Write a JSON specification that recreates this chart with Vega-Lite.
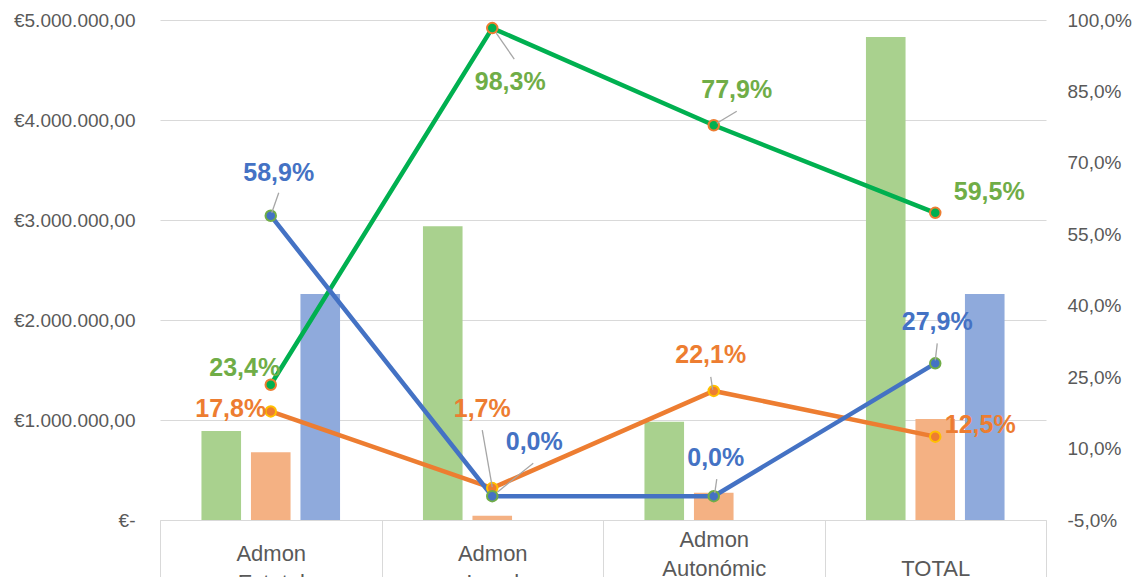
{
  "$schema": "https://vega.github.io/schema/vega-lite/v6.json",
  "width": 886,
  "height": 500,
  "autosize": {"type": "none"},
  "padding": {"left": 160, "top": 20, "right": 100, "bottom": 57},
  "config": {
    "locale": {"number": {"decimal": ",", "thousands": ".", "grouping": [3], "currency": ["€", ""], "minus": "-"}},
    "view": {"stroke": null},
    "font": "Liberation Sans",
    "axis": {"labelFont": "Liberation Sans", "labelFontSize": 19, "labelColor": "#595959", "gridColor": "#D9D9D9", "domainColor": "#D9D9D9", "tickColor": "#D9D9D9", "title": null}
  },
  "datasets": {
    "importes": [
      {"cat": "Admon Estatal", "serie": "Serie 1", "importe": 890000},
      {"cat": "Admon Estatal", "serie": "Serie 2", "importe": 677000},
      {"cat": "Admon Estatal", "serie": "Serie 3", "importe": 2260000},
      {"cat": "Admon Local", "serie": "Serie 1", "importe": 2937000},
      {"cat": "Admon Local", "serie": "Serie 2", "importe": 43000},
      {"cat": "Admon Local", "serie": "Serie 3", "importe": 0},
      {"cat": "Admon Autonómica", "serie": "Serie 1", "importe": 983000},
      {"cat": "Admon Autonómica", "serie": "Serie 2", "importe": 273000},
      {"cat": "Admon Autonómica", "serie": "Serie 3", "importe": 0},
      {"cat": "TOTAL", "serie": "Serie 1", "importe": 4830000},
      {"cat": "TOTAL", "serie": "Serie 2", "importe": 1010000},
      {"cat": "TOTAL", "serie": "Serie 3", "importe": 2260000}
    ],
    "porcentajes": [
      {"cat": "Admon Estatal", "serie": "Serie 1", "pct": 0.234},
      {"cat": "Admon Local", "serie": "Serie 1", "pct": 0.983},
      {"cat": "Admon Autonómica", "serie": "Serie 1", "pct": 0.779},
      {"cat": "TOTAL", "serie": "Serie 1", "pct": 0.595},
      {"cat": "Admon Estatal", "serie": "Serie 2", "pct": 0.178},
      {"cat": "Admon Local", "serie": "Serie 2", "pct": 0.017},
      {"cat": "Admon Autonómica", "serie": "Serie 2", "pct": 0.221},
      {"cat": "TOTAL", "serie": "Serie 2", "pct": 0.125},
      {"cat": "Admon Estatal", "serie": "Serie 3", "pct": 0.589},
      {"cat": "Admon Local", "serie": "Serie 3", "pct": 0.0},
      {"cat": "Admon Autonómica", "serie": "Serie 3", "pct": 0.0},
      {"cat": "TOTAL", "serie": "Serie 3", "pct": 0.279}
    ]
  },
  "resolve": {"scale": {"y": "independent", "color": "independent"}},
  "layer": [
    {
      "data": {"name": "importes"},
      "mark": {"type": "bar"},
      "encoding": {
        "x": {
          "field": "cat", "type": "nominal",
          "sort": ["Admon Estatal", "Admon Local", "Admon Autonómica", "TOTAL"],
          "scale": {"paddingInner": 0, "paddingOuter": 0},
          "axis": {
            "title": null, "labelAngle": 0, "tickBand": "extent", "tickSize": 60,
            "labelPadding": {
              "condition": [
                {"test": "datum.value == 'Admon Autonómica'", "value": -41},
                {"test": "datum.value == 'TOTAL'", "value": -12}
              ],
              "value": -27
            },
            "labelBaseline": "middle", "labelLineHeight": 29,
            "labelOverlap": false, "labelFontSize": 22, "labelBound": false,
            "labelExpr": "datum.label == '' ? '' : datum.label == 'Admon Autonómica' ? ['Admon', 'Autonómic', 'a'] : datum.label == 'TOTAL' ? 'TOTAL' : split(datum.label, ' ')"
          }
        },
        "xOffset": {"field": "serie", "type": "nominal", "sort": ["Serie 1", "Serie 2", "Serie 3"], "scale": {"paddingInner": 0.2, "paddingOuter": 0.8375}},
        "y": {
          "field": "importe", "type": "quantitative",
          "scale": {"domain": [0, 5000000], "nice": false},
          "axis": {
            "title": null, "orient": "left", "values": [0, 1000000, 2000000, 3000000, 4000000, 5000000],
            "format": "$,.2f", "labelExpr": "datum.value == 0 ? '€-\u00a0\u00a0' : datum.label",
            "ticks": false, "domain": false, "grid": true, "labelPadding": 25
          }
        },
        "color": {
          "field": "serie", "type": "nominal",
          "scale": {"domain": ["Serie 1", "Serie 2", "Serie 3"], "range": ["#A9D18E", "#F4B183", "#8FAADC"]},
          "legend": null
        }
      }
    },
    {
      "data": {"name": "porcentajes"},
      "encoding": {
        "x": {"field": "cat", "type": "nominal", "sort": ["Admon Estatal", "Admon Local", "Admon Autonómica", "TOTAL"]},
        "y": {
          "field": "pct", "type": "quantitative",
          "scale": {"domain": [-0.05, 1.0], "nice": false, "zero": false},
          "axis": {
            "title": null, "orient": "right", "values": [-0.05, 0.1, 0.25, 0.4, 0.55, 0.7, 0.85, 1.0],
            "format": ".1%", "ticks": false, "domain": false, "grid": false, "labelPadding": 21
          }
        }
      },
      "layer": [
        {
          "mark": {"type": "line", "strokeWidth": 4.5},
          "encoding": {
            "color": {
              "field": "serie", "type": "nominal",
              "scale": {"domain": ["Serie 1", "Serie 2", "Serie 3"], "range": ["#00B050", "#ED7D31", "#4472C4"]},
              "legend": null
            }
          }
        },
        {
          "mark": {"type": "point", "shape": "circle", "filled": true, "size": 110, "strokeWidth": 2, "opacity": 1},
          "encoding": {
            "fill": {
              "field": "serie", "type": "nominal",
              "scale": {"domain": ["Serie 1", "Serie 2", "Serie 3"], "range": ["#00B050", "#ED7D31", "#4472C4"]},
              "legend": null
            },
            "stroke": {
              "field": "serie", "type": "nominal",
              "scale": {"domain": ["Serie 1", "Serie 2", "Serie 3"], "range": ["#ED7D31", "#FFC000", "#70AD47"]},
              "legend": null
            }
          }
        },
        {
          "transform": [{"filter": "datum.serie == 'Serie 1' && datum.cat == 'Admon Local'"}],
          "mark": {"type": "point", "shape": "M4,5L22,31", "size": 4, "filled": false, "stroke": "#A6A6A6", "strokeWidth": 1.3, "opacity": 1}
        },
        {
          "transform": [{"filter": "datum.serie == 'Serie 1' && datum.cat == 'Admon Autonómica'"}],
          "mark": {"type": "point", "shape": "M23,-14L3,-2", "size": 4, "filled": false, "stroke": "#A6A6A6", "strokeWidth": 1.3, "opacity": 1}
        },
        {
          "transform": [{"filter": "datum.serie == 'Serie 2' && datum.cat == 'Admon Autonómica'"}],
          "mark": {"type": "point", "shape": "M-3,-14L-1,-1", "size": 4, "filled": false, "stroke": "#A6A6A6", "strokeWidth": 1.3, "opacity": 1}
        },
        {
          "transform": [{"filter": "datum.serie == 'Serie 2' && datum.cat == 'Admon Local'"}],
          "mark": {"type": "point", "shape": "M-10,-58L0,-1", "size": 4, "filled": false, "stroke": "#A6A6A6", "strokeWidth": 1.3, "opacity": 1}
        },
        {
          "transform": [{"filter": "datum.serie == 'Serie 3' && datum.cat == 'Admon Estatal'"}],
          "mark": {"type": "point", "shape": "M8,-23L1,-3", "size": 4, "filled": false, "stroke": "#A6A6A6", "strokeWidth": 1.3, "opacity": 1}
        },
        {
          "transform": [{"filter": "datum.serie == 'Serie 3' && datum.cat == 'Admon Local'"}],
          "mark": {"type": "point", "shape": "M41,-33L5,-4", "size": 4, "filled": false, "stroke": "#A6A6A6", "strokeWidth": 1.3, "opacity": 1}
        },
        {
          "transform": [{"filter": "datum.serie == 'Serie 3' && datum.cat == 'Admon Autonómica'"}],
          "mark": {"type": "point", "shape": "M3,-17L1,-3", "size": 4, "filled": false, "stroke": "#A6A6A6", "strokeWidth": 1.3, "opacity": 1}
        },
        {
          "transform": [{"filter": "datum.serie == 'Serie 3' && datum.cat == 'TOTAL'"}],
          "mark": {"type": "point", "shape": "M2,-20L0,-3", "size": 4, "filled": false, "stroke": "#A6A6A6", "strokeWidth": 1.3, "opacity": 1}
        },
        {
          "transform": [{"filter": "datum.serie == 'Serie 1' && datum.cat == 'Admon Estatal'"}],
          "mark": {"type": "text", "dx": -26, "dy": -17, "fontSize": 25, "fontWeight": "bold", "color": "#70AD47"},
          "encoding": {"text": {"field": "pct", "format": ".1%"}}
        },
        {
          "transform": [{"filter": "datum.serie == 'Serie 1' && datum.cat == 'Admon Local'"}],
          "mark": {"type": "text", "dx": 18, "dy": 54, "fontSize": 25, "fontWeight": "bold", "color": "#70AD47"},
          "encoding": {"text": {"field": "pct", "format": ".1%"}}
        },
        {
          "transform": [{"filter": "datum.serie == 'Serie 1' && datum.cat == 'Admon Autonómica'"}],
          "mark": {"type": "text", "dx": 23, "dy": -35, "fontSize": 25, "fontWeight": "bold", "color": "#70AD47"},
          "encoding": {"text": {"field": "pct", "format": ".1%"}}
        },
        {
          "transform": [{"filter": "datum.serie == 'Serie 1' && datum.cat == 'TOTAL'"}],
          "mark": {"type": "text", "dx": 54, "dy": -21, "fontSize": 25, "fontWeight": "bold", "color": "#70AD47"},
          "encoding": {"text": {"field": "pct", "format": ".1%"}}
        },
        {
          "transform": [{"filter": "datum.serie == 'Serie 2' && datum.cat == 'Admon Estatal'"}],
          "mark": {"type": "text", "dx": -40, "dy": -2, "fontSize": 25, "fontWeight": "bold", "color": "#ED7D31"},
          "encoding": {"text": {"field": "pct", "format": ".1%"}}
        },
        {
          "transform": [{"filter": "datum.serie == 'Serie 2' && datum.cat == 'Admon Local'"}],
          "mark": {"type": "text", "dx": -10, "dy": -79, "fontSize": 25, "fontWeight": "bold", "color": "#ED7D31"},
          "encoding": {"text": {"field": "pct", "format": ".1%"}}
        },
        {
          "transform": [{"filter": "datum.serie == 'Serie 2' && datum.cat == 'Admon Autonómica'"}],
          "mark": {"type": "text", "dx": -3, "dy": -36, "fontSize": 25, "fontWeight": "bold", "color": "#ED7D31"},
          "encoding": {"text": {"field": "pct", "format": ".1%"}}
        },
        {
          "transform": [{"filter": "datum.serie == 'Serie 2' && datum.cat == 'TOTAL'"}],
          "mark": {"type": "text", "dx": 45, "dy": -12, "fontSize": 25, "fontWeight": "bold", "color": "#ED7D31"},
          "encoding": {"text": {"field": "pct", "format": ".1%"}}
        },
        {
          "transform": [{"filter": "datum.serie == 'Serie 3' && datum.cat == 'Admon Estatal'"}],
          "mark": {"type": "text", "dx": 8, "dy": -43, "fontSize": 25, "fontWeight": "bold", "color": "#4472C4"},
          "encoding": {"text": {"field": "pct", "format": ".1%"}}
        },
        {
          "transform": [{"filter": "datum.serie == 'Serie 3' && datum.cat == 'Admon Local'"}],
          "mark": {"type": "text", "dx": 42, "dy": -54, "fontSize": 25, "fontWeight": "bold", "color": "#4472C4"},
          "encoding": {"text": {"field": "pct", "format": ".1%"}}
        },
        {
          "transform": [{"filter": "datum.serie == 'Serie 3' && datum.cat == 'Admon Autonómica'"}],
          "mark": {"type": "text", "dx": 2, "dy": -38, "fontSize": 25, "fontWeight": "bold", "color": "#4472C4"},
          "encoding": {"text": {"field": "pct", "format": ".1%"}}
        },
        {
          "transform": [{"filter": "datum.serie == 'Serie 3' && datum.cat == 'TOTAL'"}],
          "mark": {"type": "text", "dx": 2, "dy": -41, "fontSize": 25, "fontWeight": "bold", "color": "#4472C4"},
          "encoding": {"text": {"field": "pct", "format": ".1%"}}
        }
      ]
    }
  ]
}
